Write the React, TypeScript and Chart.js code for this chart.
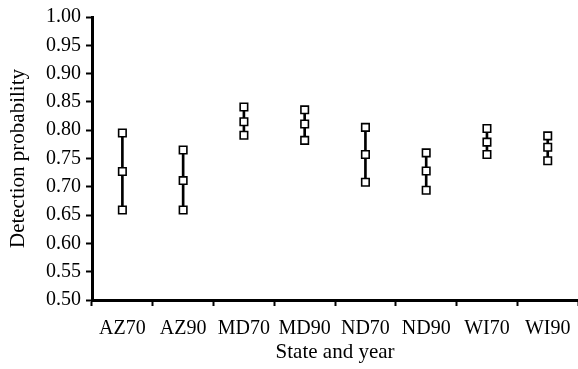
import React, { useEffect, useRef } from "react";
import { Chart, registerables } from "chart.js";

Chart.register(...registerables);

const categories = ["AZ70", "AZ90", "MD70", "MD90", "ND70", "ND90", "WI70", "WI90"];
const lowValues = [0.659, 0.659, 0.791, 0.782, 0.708, 0.694, 0.757, 0.746];
const midValues = [0.727, 0.711, 0.815, 0.811, 0.757, 0.728, 0.779, 0.77];
const highValues = [0.795, 0.765, 0.841, 0.836, 0.805, 0.76, 0.803, 0.79];
const yTicks = [0.5, 0.55, 0.6, 0.65, 0.7, 0.75, 0.8, 0.85, 0.9, 0.95, 1.0];

const FONT = "'Liberation Serif', 'Times New Roman', serif";
const CANVAS_W = 585;

export default function App() {
  const ref = useRef<HTMLCanvasElement | null>(null);
  useEffect(() => {
    if (!ref.current) return;
    const pointDs = (data: number[]) => ({
      type: "line" as const,
      data,
      showLine: false,
      pointStyle: "rect",
      pointRadius: 5.3,
      pointHoverRadius: 5.3,
      pointBorderWidth: 1.6,
      pointBackgroundColor: "#ffffff",
      pointBorderColor: "#000000",
      borderColor: "#000000",
      backgroundColor: "#ffffff",
      order: 0,
    });
    const chart = new Chart(ref.current, {
      type: "bar",
      data: {
        labels: categories,
        datasets: [
          {
            type: "bar",
            data: categories.map((_, i) => [lowValues[i], highValues[i]]) as any,
            backgroundColor: "#000000",
            borderWidth: 0,
            barThickness: 2,
            order: 1,
          },
          pointDs(lowValues),
          pointDs(midValues),
          pointDs(highValues),
        ] as any,
      },
      options: {
        animation: false,
        responsive: false,
        maintainAspectRatio: false,
        layout: { padding: { top: 15, right: 0, left: 0, bottom: 0 } },
        plugins: { legend: { display: false }, tooltip: { enabled: false } },
        scales: {
          x: {
            type: "category",
            offset: true,
            grid: {
              offset: true,
              drawOnChartArea: false,
              drawTicks: true,
              tickLength: 6,
              tickWidth: 2,
              tickColor: "#000000",
            },
            border: { display: true, color: "#000000", width: 3 },
            ticks: {
              color: "#000000",
              font: { family: FONT, size: 20 },
              padding: 11,
              maxRotation: 0,
              autoSkip: false,
            },
            title: {
              display: true,
              text: "State and year",
              color: "#000000",
              font: { family: FONT, size: 21 },
              padding: { top: 0, bottom: 4 },
            },
            afterFit: (s: any) => {
              s.height = 69;
            },
          },
          y: {
            min: 0.5,
            max: 1.0,
            afterBuildTicks: (s: any) => {
              s.ticks = yTicks.map((v) => ({ value: v }));
            },
            grid: {
              drawOnChartArea: false,
              drawTicks: true,
              tickLength: 6,
              tickWidth: 2,
              tickColor: "#000000",
            },
            border: { display: true, color: "#000000", width: 3 },
            ticks: {
              color: "#000000",
              font: { family: FONT, size: 20 },
              padding: 5,
              callback: (v: any) => Number(v).toFixed(2),
            },
            title: {
              display: true,
              text: "Detection probability",
              color: "#000000",
              font: { family: FONT, size: 21 },
              padding: { top: 6, bottom: 0 },
            },
            afterFit: (s: any) => {
              s.width = 92;
            },
          },
        },
      },
    });
    return () => chart.destroy();
  }, []);
  return (
    <div
      style={{
        position: "absolute",
        left: 0,
        top: 0,
        width: 578,
        height: 369,
        overflow: "hidden",
        background: "#fff",
      }}
    >
      <canvas ref={ref} width={CANVAS_W} height={369} style={{ width: CANVAS_W, height: 369, display: "block" }} />
    </div>
  );
}
